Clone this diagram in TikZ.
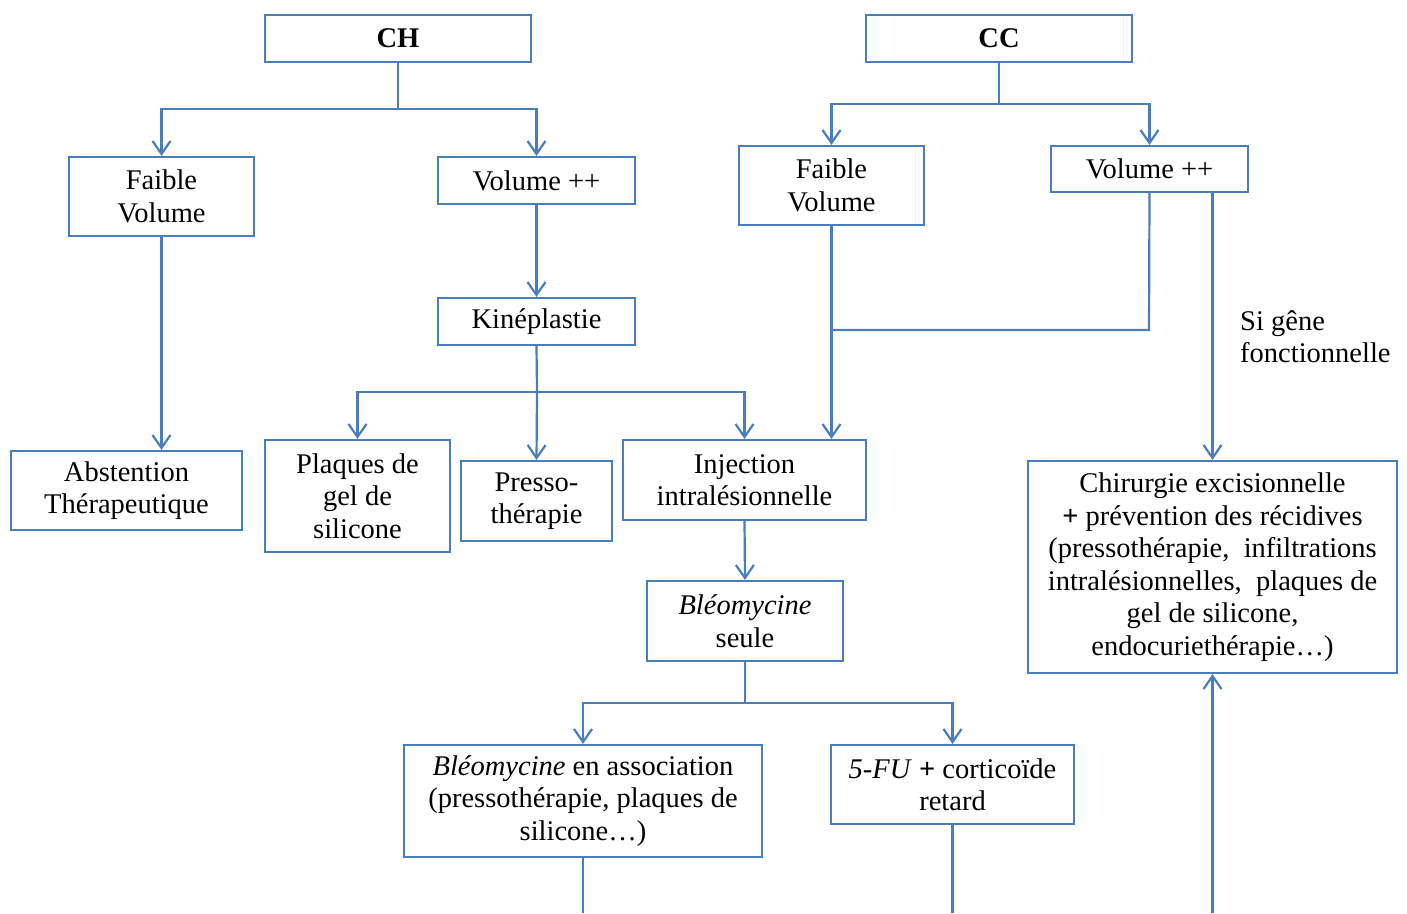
\documentclass[tikz,border=0pt]{standalone}
\usepackage{fontspec}
\setmainfont{Liberation Serif}
\usetikzlibrary{arrows.meta}
\definecolor{lblue}{RGB}{74,126,187}
\tikzset{
  box/.style={draw=lblue, line width=2.2pt, inner sep=0pt, align=center, text=black,
    font=\fontsize{28.5}{32.5}\selectfont},
  conn/.style={draw=lblue, line width=2.2pt},
  arr/.style={conn, -{Straight Barb[length=13pt,width=18pt,line width=2.2pt]}},
  lbl/.style={inner sep=0pt, align=left, text=black, font=\fontsize{28.5}{32.5}\selectfont}
}
\begin{document}
\begin{tikzpicture}[x=1pt,y=-1pt]
\useasboundingbox[fill=white] (0,0) rectangle (1407,913);
% CH side
\node[box, minimum width=266pt, minimum height=47pt] (ch) at (398,38.5) {\textbf{CH}};
\node[box, minimum width=185pt, minimum height=79pt] (fvl) at (161.5,196.5) {Faible\\Volume};
\node[box, minimum width=197pt, minimum height=47pt] (vpl) at (536.5,180.5) {Volume ++};
\node[box, minimum width=197pt, minimum height=47pt] (kine) at (536.5,321.5) {Kinéplastie};
\node[box, minimum width=231pt, minimum height=79pt] (abst) at (126.5,490.5) {Abstention\\Thérapeutique};
\node[box, minimum width=185pt, minimum height=112pt] (plaq) at (357.5,496) {Plaques de\\gel de\\silicone};
\node[box, minimum width=151pt, minimum height=80pt] (presso) at (536.5,501) {Presso-\\thérapie};
\node[box, minimum width=243pt, minimum height=80pt] (inj) at (744.5,480) {Injection\\intralésionnelle};
\node[box, minimum width=196pt, minimum height=80pt] (bseule) at (745,621) {\textit{Bléomycine}\\seule};
\node[box, minimum width=358pt, minimum height=112pt] (bassoc) at (583,801) {\textit{Bléomycine} en association\\(pressothérapie, plaques de\\silicone…)};
\node[box, minimum width=243pt, minimum height=79pt] (fu) at (952.5,784.5) {\textit{5-FU} \textbf{+} corticoïde\\retard};
% CC side
\node[box, minimum width=266pt, minimum height=47pt] (cc) at (999,38.5) {\textbf{CC}};
\node[box, minimum width=185pt, minimum height=79pt] (fvr) at (831.5,185.5) {Faible\\Volume};
\node[box, minimum width=197pt, minimum height=46pt] (vpr) at (1149.5,169) {Volume ++};
\node[box, minimum width=369pt, minimum height=212pt] (chir) at (1212.5,567) {Chirurgie excisionnelle\\\textbf{+} prévention des récidives\\(pressothérapie,\ \ infiltrations\\intralésionnelles,\ \ plaques de\\gel de silicone,\\endocuriethérapie…)};
\node[lbl, anchor=north west] (sg) at (1240,310) {Si gêne\\fonctionnelle};
% junctions
\coordinate (chj) at (398,109);
\coordinate (kj) at (537,392);
\coordinate (bj) at (745,703);
\coordinate (ccj) at (999,104);
\coordinate (vj) at (1149,330);
\coordinate (mj) at (831,330);
\coordinate (e1) at (583,913);
\coordinate (e2) at (952.5,913);
\coordinate (e3) at (1212.5,913);
% connectors
\draw[conn] (ch.south) -- (chj);
\draw[arr] (chj) -| (fvl.north);
\draw[arr] (chj) -| (vpl.north);
\draw[arr] (fvl.south) -- (fvl.south |- abst.north);
\draw[arr] (vpl.south) -- (kine.north);
\draw[conn] (kine.south) -- (kj);
\draw[arr] (kj) -| (plaq.north);
\draw[arr] (kj) -- (presso.north);
\draw[arr] (kj) -| (inj.north);
\draw[arr] (inj.south) -- (bseule.north);
\draw[conn] (bseule.south) -- (bj);
\draw[arr] (bj) -| (bassoc.north);
\draw[arr] (bj) -| (fu.north);
\draw[conn] (bassoc.south) -- (e1);
\draw[conn] (fu.south) -- (e2);
\draw[conn] (cc.south) -- (ccj);
\draw[arr] (ccj) -| (fvr.north);
\draw[arr] (ccj) -| (vpr.north);
\draw[arr] (fvr.south) -- (fvr.south |- inj.north);
\draw[conn] (vpr.south) -- (vj) -- (mj);
\draw[arr] (vpr.south -| chir.north) -- (chir.north);
\draw[arr] (e3) -- (chir.south);
\end{tikzpicture}
\end{document}
